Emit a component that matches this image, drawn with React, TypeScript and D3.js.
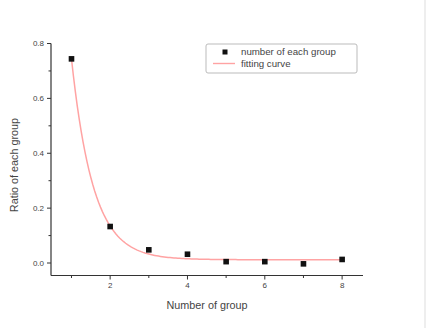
import React from "react";
import * as d3 from "d3";

const groups = [1, 2, 3, 4, 5, 6, 7, 8];
const ratios = [0.744, 0.133, 0.048, 0.032, 0.005, 0.005, -0.003, 0.013];
const xTicks = [2, 4, 6, 8];
const xMinor = [1, 3, 5, 7];
const yTicks = [0.0, 0.2, 0.4, 0.6, 0.8];
const yMinor = [0.1, 0.3, 0.5, 0.7];
// exponential decay fit: y = y0 + A * exp(-(x - 1) / t)
const fitY0 = 0.012;
const fitA = 0.732;
const fitT = 0.56;
const legendLabels = ["number of each group", "fitting curve"];

const W = 426, H = 328;
const L = 51, R = 363, T = 43.5, B = 275.5;

export default function App() {
  const x = d3.scaleLinear().domain([0.47, 8.54]).range([L, R]);
  const y = d3.scaleLinear().domain([-0.0455, 0.8]).range([B, T]);
  const fitPts = d3.range(1, 8.0001, 0.05).map((v) => [v, fitY0 + fitA * Math.exp(-(v - 1) / fitT)] as [number, number]);
  const line = d3.line<[number, number]>().x((d) => x(d[0])).y((d) => y(d[1]))(fitPts) || "";
  const axisColor = "#333";
  const textColor = "#444";
  const curveColor = "#ffa3a3";
  const font = "'Liberation Sans', Arial, sans-serif";
  return (
    <svg width={W} height={H} style={{ position: "absolute", left: 0, top: 0, background: "#fff" }} fontFamily={font}>
      <rect x={0} y={0} width={W} height={H} fill="#fff" />
      <line x1={425} x2={425} y1={0} y2={H} stroke="#ddd" strokeWidth={1} />
      {/* axes */}
      <line x1={L} x2={L} y1={T} y2={B} stroke={axisColor} strokeWidth={1.2} />
      <line x1={L} x2={R} y1={B} y2={B} stroke={axisColor} strokeWidth={1.2} />
      {yTicks.map((t) => (
        <g key={"yt" + t}>
          <line x1={L - 4} x2={L} y1={y(t)} y2={y(t)} stroke={axisColor} strokeWidth={1} />
          <text x={L - 7} y={y(t)} dy="0.35em" textAnchor="end" fontSize={8} fill={textColor}>{t.toFixed(1)}</text>
        </g>
      ))}
      {yMinor.map((t) => (
        <line key={"ym" + t} x1={L - 2.5} x2={L} y1={y(t)} y2={y(t)} stroke={axisColor} strokeWidth={1} />
      ))}
      {xTicks.map((t) => (
        <g key={"xt" + t}>
          <line x1={x(t)} x2={x(t)} y1={B} y2={B + 4} stroke={axisColor} strokeWidth={1} />
          <text x={x(t)} y={B + 12.5} textAnchor="middle" fontSize={8} fill={textColor}>{t}</text>
        </g>
      ))}
      {xMinor.map((t) => (
        <line key={"xm" + t} x1={x(t)} x2={x(t)} y1={B} y2={B + 2.5} stroke={axisColor} strokeWidth={1} />
      ))}
      <text x={207} y={308.5} textAnchor="middle" fontSize={10.8} fill={textColor}>Number of group</text>
      <text transform={`translate(17.5,${165}) rotate(-90)`} textAnchor="middle" fontSize={10.8} fill={textColor}>Ratio of each group</text>
      {/* fit */}
      <path d={line} fill="none" stroke={curveColor} strokeWidth={1.5} />
      {groups.map((g, i) => (
        <rect key={g} x={x(g) - 2.8} y={y(ratios[i]) - 2.8} width={5.6} height={5.6} fill="#111" />
      ))}
      {/* legend */}
      <rect x={206} y={44} width={151} height={29} rx={2} fill="#fff" stroke="#bbb" strokeWidth={1} />
      <rect x={222.5} y={49.5} width={5} height={5} fill="#111" />
      <text x={241} y={52} dy="0.35em" fontSize={9.7} fill={textColor}>{legendLabels[0]}</text>
      <line x1={213} x2={235} y1={63.5} y2={63.5} stroke={curveColor} strokeWidth={1.4} />
      <text x={241} y={63.5} dy="0.35em" fontSize={9.7} fill={textColor}>{legendLabels[1]}</text>
    </svg>
  );
}
